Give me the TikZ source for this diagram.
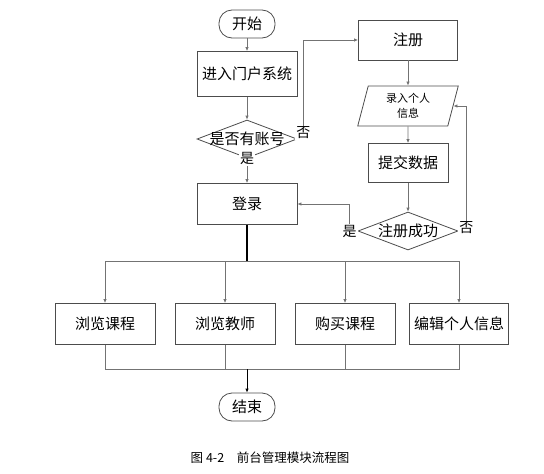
\documentclass[tikz,border=0pt]{standalone}
\usepackage{fontspec}
\setmainfont{Noto Sans CJK SC}
\usetikzlibrary{shapes.geometric,arrows.meta}

\begin{document}
\begin{tikzpicture}[x=1pt,y=-1pt]
\tikzstyle{every node}+=[inner sep=0pt]
\tikzstyle{box}=[draw=black!70, line width=0.8pt, minimum width=100pt, minimum height=41pt, font=\fontsize{15}{17}\selectfont]
\tikzstyle{term}=[box, rounded corners=13pt, minimum width=56pt, minimum height=28pt]
\tikzstyle{dia}=[draw=black!70, line width=0.8pt, diamond, minimum width=100pt, minimum height=38pt]
\tikzstyle{para}=[draw=black!70, line width=0.8pt, trapezium, trapezium left angle=77, trapezium right angle=103, trapezium stretches=true, minimum width=101pt, minimum height=40pt, align=center, font=\fontsize{11}{15}\selectfont]
\tikzstyle{line}=[draw=black!55, line width=0.8pt, -{Latex[length=4pt,width=3.5pt]}]
\tikzstyle{plain}=[draw=black!55, line width=0.8pt]
\tikzstyle{lab}=[fill=white, inner sep=1pt, font=\fontsize{14}{16}\selectfont]
\useasboundingbox (0,0) rectangle (544,474);
\node [term] (start) at (247,24) {开始};
\node [box, minimum height=45pt] (portal) at (247,74) {进入门户系统};
\node [dia, label=center:{\fontsize{15}{17}\selectfont 是否有账号}] (hasacc) at (247,139) {};
\node [box] (login) at (247,204) {登录};
\node [box, minimum width=99pt, minimum height=40pt] (reg) at (408,40) {注册};
\node [para] (info) at (408,106) {录入个人\\信息};
\node [box, minimum width=80pt, minimum height=39pt] (submit) at (408,163) {提交数据};
\node [dia, label=center:{\fontsize{15}{17}\selectfont 注册成功}] (success) at (408,231) {};
\node [box] (course) at (105,324) {浏览课程};
\node [box] (teacher) at (225,324) {浏览教师};
\node [box] (buy) at (345,324) {购买课程};
\node [box, minimum width=99pt] (edit) at (459,324) {编辑个人信息};
\node [term] (end) at (247,407) {结束};
\coordinate (bus) at (247,261);
\coordinate (join) at (247,369);
\draw [line] (start) -- (portal);
\draw [line] (portal) -- (hasacc);
\draw [line] (hasacc.south) -- node [lab, pos=0] {是} (login.north);
\draw [line] (hasacc.east) -- node [lab, pos=1, yshift=6pt] {否} ++(6,0) |- (reg.west);
\draw [line] (reg) -- (info);
\draw [line] (info) -- (submit);
\draw [line] (submit) -- (success);
\draw [line] (success.west) -- node [lab, pos=1] {是} ++(-8,0) |- (login.east);
\draw [line] (success.east) -- node [lab, pos=1, yshift=3pt] {否} ++(8,0) |- (info.east);
\draw [black, line width=1.2pt] (login) -- (bus);
\draw [line] (bus) -| (course.north);
\draw [line] (bus) -| (teacher.north);
\draw [line] (bus) -| (buy.north);
\draw [line] (bus) -| (edit.north);
\draw [plain] (course.south) |- (join);
\draw [plain] (teacher.south) |- (join);
\draw [plain] (buy.south) |- (join);
\draw [plain] (edit.south) |- (join);
\draw [black, line width=1pt, -{Latex[length=4pt,width=3.5pt]}] (join) -- (end);
\node [font=\fontsize{12.5}{14}\selectfont] (caption) at (270,458) {图 4-2\quad 前台管理模块流程图};
\end{tikzpicture}
\end{document}
